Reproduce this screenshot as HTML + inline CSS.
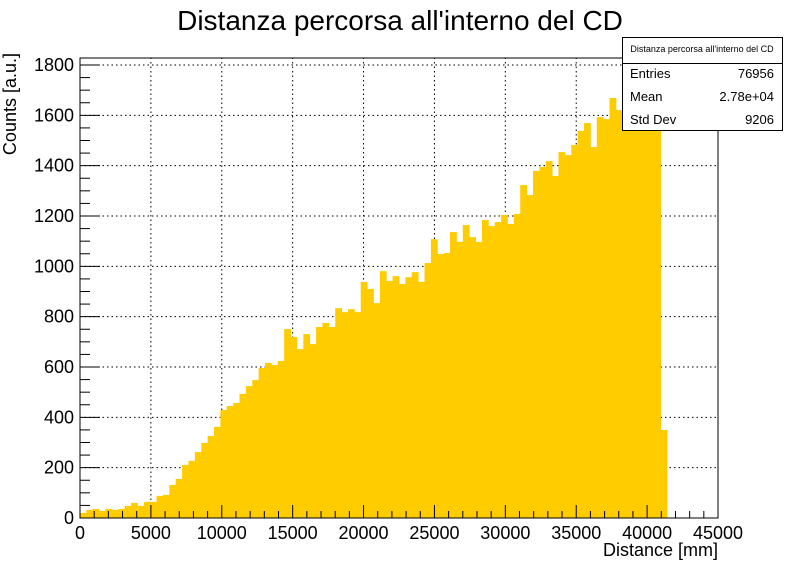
<!DOCTYPE html>
<html><head><meta charset="utf-8">
<style>
body{margin:0;background:#fff;}
svg{display:block;font-family:"Liberation Sans",Arial,sans-serif;}
</style></head>
<body>
<svg id="chart" width="798" height="576" viewBox="0 0 798 576">
<rect x="0" y="0" width="798" height="576" fill="#fff"/>
<text x="400" y="30" font-size="28" text-anchor="middle">Distanza percorsa all'interno del CD</text>
<g id="grid"></g>
<g id="bars"></g>
<g id="axes"></g>
<text x="718" y="556" font-size="18" text-anchor="end">Distance [mm]</text>
<text transform="translate(16,53) rotate(-90)" font-size="18" text-anchor="end">Counts [a.u.]</text>
<g>
<rect x="622.5" y="37.5" width="160" height="93" fill="#fff" stroke="#000" stroke-width="1"/>
<line x1="622.5" y1="63.5" x2="782.5" y2="63.5" stroke="#000"/>
<text x="702" y="52" font-size="9" text-anchor="middle">Distanza percorsa all'interno del CD</text>
<text x="630" y="78" font-size="13">Entries</text>
<text x="774" y="78" font-size="13" text-anchor="end">76956</text>
<text x="630" y="101" font-size="13">Mean</text>
<text x="774" y="101" font-size="13" text-anchor="end">2.78e+04</text>
<text x="630" y="124" font-size="13">Std Dev</text>
<text x="774" y="124" font-size="13" text-anchor="end">9206</text>
</g>
</svg>
<script>
const binWidth = 450;
const counts = [20,32,36,28,36,32,36,48,60,48,64,64,88,92,131,155,211,227,262,298,
326,362,429,445,457,493,524,548,596,616,608,624,751,719,671,731,691,759,775,759,
834,818,830,818,938,910,854,981,942,961,930,957,977,938,1013,1108,1049,1053,1136,1097,
1164,1116,1097,1184,1160,1176,1204,1168,1208,1323,1283,1379,1395,1418,1359,1454,1442,1482,1538,1569,
1474,1593,1585,1669,1621,1600,1630,1610,1640,1620,1580,350];
const xTicks = [0,5000,10000,15000,20000,25000,30000,35000,40000,45000];
const yTicks = [0,200,400,600,800,1000,1200,1400,1600,1800];

const NS="http://www.w3.org/2000/svg";
const X0=80,X1=718,Y0=518,Y1=58;
const xMax=45000, yPerPx=(518-65)/1800;
function xs(v){return X0+(v/xMax)*(X1-X0);}
function ys(v){return Y0-v*yPerPx;}
function mk(tag,attrs,parent){const e=document.createElementNS(NS,tag);for(const k in attrs)e.setAttribute(k,attrs[k]);parent.appendChild(e);return e;}
const grid=document.getElementById('grid'),bars=document.getElementById('bars'),axes=document.getElementById('axes');

xTicks.forEach(t=>{if(t>0&&t<xMax){const l=mk('line',{x1:xs(t),x2:xs(t),y1:Y0,y2:Y1,stroke:'#000','stroke-dasharray':'1.5,3','stroke-width':1},grid);

}});
yTicks.forEach(t=>{if(t>0){const l=mk('line',{x1:X0,x2:X1,y1:ys(t),y2:ys(t),stroke:'#000','stroke-dasharray':'1.5,3','stroke-width':1},grid);

}});

counts.forEach((c,i)=>{const xa=xs(i*binWidth),xb=xs((i+1)*binWidth);
const r=mk('rect',{x:xa,y:ys(c),width:xb-xa+0.4,height:Y0-ys(c),fill:'#ffcc00'},bars);

});

const fr=mk('rect',{x:X0,y:Y1,width:X1-X0,height:Y0-Y1,fill:'none',stroke:'#000','stroke-width':1},axes);


for(let v=0;v<=xMax;v+=1000){const major=v%5000===0;
mk('line',{x1:xs(v),x2:xs(v),y1:Y0,y2:Y0-(major?13:7),stroke:'#000'},axes);}
for(let v=0;v<=1800;v+=50){const major=v%200===0;
mk('line',{x1:X0,x2:X0+(major?20:10),y1:ys(v),y2:ys(v),stroke:'#000'},axes);}
xTicks.forEach(t=>{const tx=mk('text',{x:xs(t),y:539,'font-size':18,'text-anchor':'middle'},axes);tx.textContent=t;

});
yTicks.forEach(t=>{const tx=mk('text',{x:74,y:ys(t)+6,'font-size':18,'text-anchor':'end'},axes);tx.textContent=t;

});
</script>
</body></html>
